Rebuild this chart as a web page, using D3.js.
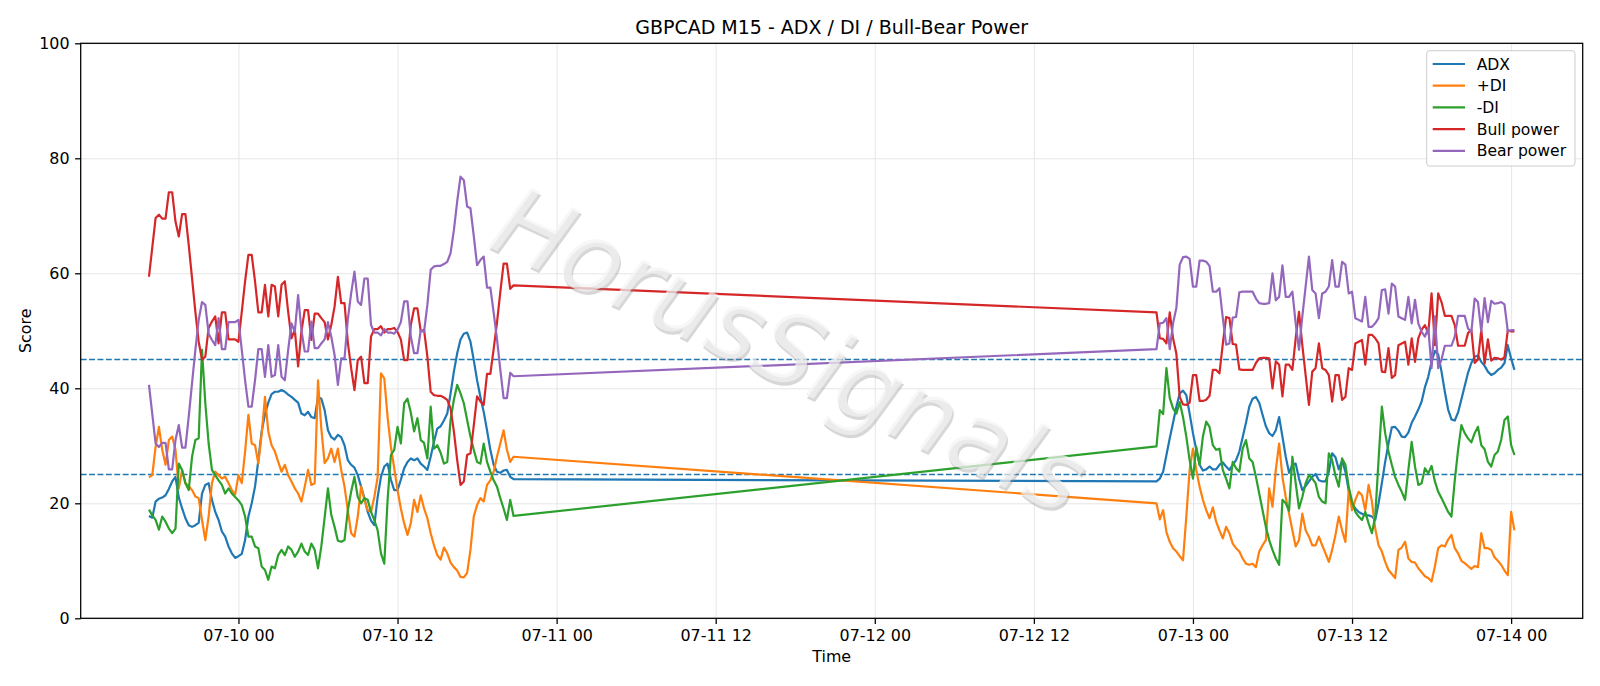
<!DOCTYPE html>
<html>
<head>
<meta charset="utf-8">
<script src="https://cdn.jsdelivr.net/npm/d3@7"></script>
<style>
  body { margin: 0; background: #fff; }
  svg text { font-family: "DejaVu Sans", sans-serif; fill: #000; }
</style>
</head>
<body>
<div class="chart"></div>
<script>
// two M15 sessions (UTC), one value per 15 minute bar
var sessionStarts = ['2026-07-09T17:15:00Z', '2026-07-12T21:15:00Z'];

var adxA = [17.8,17.5,20.3,20.8,21.0,21.4,22.5,23.8,24.6,21.0,
  19.1,17.4,16.2,15.9,16.2,16.6,21.7,23.2,23.5,20.6,
  18.5,17.1,15.1,14.2,12.5,11.3,10.5,10.8,11.2,13.6,
  17.7,20.0,22.9,27.5,32.5,35.5,37.5,39.0,39.4,39.4,
  39.7,39.4,38.9,38.5,38.0,37.5,35.6,35.3,35.9,35.0,
  34.8,38.5,38.2,36.2,32.7,31.5,31.1,31.9,31.5,30.1,
  27.5,26.7,26.2,24.9,22.9,20.9,18.5,17.0,16.2,21.1,
  24.6,26.4,26.9,24.1,22.3,22.3,24.1,26.1,27.2,27.8,
  27.5,27.8,26.9,26.4,25.8,28.1,30.7,33.0,33.4,34.4,
  35.6,39.1,42.9,46.1,48.5,49.5,49.7,48.1,44.9,41.4,
  38.5,35.9,32.7,29.3,26.7,25.5,25.3,25.7,25.8,24.6,
  24.2];
var adxB = [23.8,24.3,25.5,28.4,31.3,34.0,36.8,39.1,39.6,38.8,
  35.6,32.2,29.3,26.7,25.7,25.9,26.4,25.9,25.9,26.7,
  27.1,26.4,25.8,26.7,27.5,29.0,31.5,34.0,36.8,38.2,
  38.5,37.5,35.4,33.4,32.2,31.7,32.7,35.0,31.6,28.1,
  25.3,26.7,26.9,24.3,22.3,23.0,23.8,24.6,25.1,24.0,
  23.8,23.8,25.5,28.7,28.0,25.9,27.4,25.5,22.2,20.0,
  19.1,18.5,18.2,17.9,17.9,17.7,17.1,20.0,23.5,27.2,
  30.4,33.2,33.3,32.6,31.6,31.5,32.3,34.0,35.1,36.3,
  37.7,40.2,42.0,44.6,46.5,45.9,42.9,39.4,36.3,34.6,
  34.4,35.8,38.1,40.4,42.7,44.4,45.5,45.7,44.6,43.9,
  42.9,42.3,42.6,43.2,43.6,44.4,47.5,45.2,43.2];

var plusDiA = [24.5,24.9,29.8,33.3,29.3,26.7,31.0,31.6,29.3,22.6,
  25.8,23.5,23.0,22.3,21.2,20.9,17.1,13.6,17.7,23.5,
  25.5,24.9,24.3,24.6,23.5,22.3,21.5,24.9,23.5,29.0,
  35.4,30.4,30.1,26.9,32.0,38.5,32.5,30.1,29.0,27.2,
  25.5,26.7,24.9,23.8,22.6,21.7,20.3,22.9,25.8,23.2,
  23.5,41.4,33.0,27.0,27.8,29.5,27.2,29.5,25.8,22.9,
  18.8,14.8,14.2,17.7,22.9,20.6,18.8,18.5,21.1,24.6,
  42.6,41.7,35.0,29.8,26.1,22.3,19.1,16.5,14.5,16.5,
  20.6,18.5,21.4,19.1,17.4,14.8,12.7,11.0,10.2,12.3,
  11.3,9.7,8.9,8.3,7.2,7.1,7.9,11.9,17.7,19.7,
  20.9,20.3,23.2,24.0,25.5,28.1,30.4,32.7,29.3,27.2,
  28.1];
var plusDiB = [20.0,17.2,18.8,15.0,13.3,12.2,11.6,10.8,10.1,17.7,
  25.8,29.5,25.8,22.9,20.6,18.8,17.4,19.3,16.8,15.3,
  13.9,15.9,14.8,13.0,12.2,11.6,10.4,9.5,9.3,9.5,
  8.9,11.6,12.7,13.6,22.6,19.4,25.8,30.4,24.6,21.1,
  18.2,15.3,12.5,13.6,18.2,15.3,14.2,12.7,12.7,14.2,
  12.7,11.3,9.8,11.9,14.5,17.7,15.3,13.3,22.3,18.8,
  20.6,22.0,21.4,18.8,23.2,20.3,15.6,12.7,11.6,9.8,
  8.4,7.7,7.0,11.9,12.3,13.3,10.4,9.8,9.7,8.7,
  8.0,7.3,7.0,6.4,9.0,12.2,12.7,12.5,13.7,14.5,
  12.2,11.3,10.0,9.6,9.1,8.6,9.1,8.9,14.8,12.2,
  12.2,11.9,10.6,10.0,9.3,8.3,7.5,18.5,15.3];

var minusDiA = [18.9,17.9,17.1,15.4,17.7,16.8,15.6,14.8,15.6,26.9,
  25.8,23.5,22.3,28.1,31.0,31.3,46.7,37.4,30.4,25.8,
  24.9,24.0,23.2,21.7,22.6,21.7,21.1,20.5,19.7,17.7,
  14.2,14.2,12.5,12.2,9.0,8.4,6.7,9.0,8.7,11.0,
  11.9,11.0,12.5,11.9,10.7,11.6,13.0,11.6,11.0,13.0,
  11.9,8.7,12.5,17.5,22.6,18.0,15.9,13.5,13.3,13.6,
  18.8,22.0,24.6,21.1,20.0,20.9,20.6,18.5,17.1,15.3,
  11.3,9.5,20.6,28.4,29.3,33.3,30.4,37.4,38.2,35.8,
  32.5,34.8,31.0,30.5,27.8,36.8,29.5,30.1,28.8,26.9,
  27.2,34.5,38.0,40.6,39.1,37.4,34.5,31.6,29.3,27.2,
  26.9,30.4,27.2,25.5,24.0,22.9,20.9,19.1,17.1,20.6,
  17.8];
var minusDiB = [29.9,36.2,35.5,43.5,38.3,36.5,35.6,37.6,35.0,31.6,
  27.5,24.3,29.8,26.7,31.6,34.2,33.3,30.1,29.3,29.5,
  25.8,24.3,22.6,27.2,26.1,25.5,29.5,31.0,27.8,27.2,
  24.6,21.7,18.8,15.9,13.6,11.9,10.4,9.3,20.6,20.0,
  18.7,28.1,23.5,19.1,21.1,23.5,24.9,24.3,23.5,21.1,
  20.3,20.0,28.7,27.5,24.8,22.9,27.8,26.7,22.9,20.3,
  18.5,17.7,17.1,18.5,16.5,14.8,17.7,27.5,36.8,32.2,
  29.0,26.7,24.6,23.2,22.0,20.6,25.8,30.7,26.4,23.2,
  23.5,26.1,25.2,26.5,23.8,22.0,20.9,19.7,18.5,17.7,
  24.0,29.3,33.6,32.2,31.3,30.6,32.2,33.3,30.1,29.4,
  27.2,26.4,28.4,29.0,31.0,34.5,35.1,30.1,28.4];

var bullA = [59.4,64.5,69.6,70.2,69.5,69.5,74.1,74.1,69.0,66.4,
  70.3,70.3,64.9,59.1,53.3,48.1,45.0,45.5,50.5,51.6,
  52.5,47.8,53.2,53.2,48.5,48.5,48.5,48.1,53.3,58.6,
  63.2,63.2,58.6,53.2,53.2,58.0,52.5,58.0,57.7,52.5,
  58.0,58.6,53.3,48.7,50.2,43.8,49.9,53.6,53.6,48.4,
  53.0,53.0,52.2,51.5,48.5,51.0,54.2,59.4,54.8,54.8,
  48.0,43.5,39.7,44.9,45.5,40.9,40.9,49.0,50.3,50.3,
  50.8,49.7,50.3,50.3,50.5,49.8,48.5,44.9,44.9,51.0,
  53.9,53.9,49.9,50.2,45.5,39.4,38.8,38.7,38.7,38.4,
  38.0,36.5,32.5,27.5,23.2,23.8,28.4,28.7,33.5,38.6,
  37.7,37.1,42.5,42.5,46.8,51.4,56.7,61.7,61.7,57.3,
  57.9];
var bullB = [53.2,48.7,48.6,47.8,53.2,48.7,46.0,38.5,37.2,37.1,
  37.5,42.3,42.3,37.8,37.8,38.0,38.7,43.2,43.2,42.6,
  47.7,52.4,52.2,47.7,47.6,43.3,43.2,43.2,43.2,43.2,
  44.4,45.2,45.3,45.3,45.2,40.0,44.7,44.1,38.6,44.1,
  44.1,43.2,48.7,53.3,47.5,42.3,37.1,42.9,43.5,47.8,
  43.5,43.2,42.3,37.7,42.3,42.3,38.0,38.5,43.5,43.2,
  47.8,48.1,48.4,44.1,49.3,49.3,48.7,47.8,42.9,42.8,
  47.0,41.8,42.3,47.5,47.8,48.1,44.1,48.7,44.6,48.7,
  50.2,51.0,49.5,56.5,47.5,56.5,55.0,52.6,52.6,52.6,
  51.0,47.4,47.4,47.4,49.6,50.2,44.4,45.0,50.1,44.3,
  48.5,44.8,45.3,45.2,45.0,45.4,50.1,49.9,49.9];

var bearA = [40.6,35.5,30.4,29.8,30.5,30.5,25.9,25.9,31.0,33.6,
  29.7,29.7,35.1,40.9,46.7,51.9,55.0,54.5,49.5,48.4,
  47.5,52.2,46.8,46.8,51.5,51.5,51.5,51.9,46.7,41.4,
  36.8,36.8,41.4,46.8,46.8,42.0,47.5,42.0,42.3,47.5,
  42.0,41.4,46.7,51.3,49.8,56.2,50.1,46.4,46.4,51.6,
  47.0,47.0,47.8,48.5,51.5,49.0,45.8,40.6,45.2,45.2,
  52.0,56.5,60.3,55.1,54.5,59.1,59.1,51.0,49.7,49.7,
  49.2,50.3,49.7,49.7,49.5,50.2,51.5,55.1,55.1,49.0,
  46.1,46.1,50.1,49.8,54.5,60.6,61.2,61.3,61.3,61.6,
  62.0,63.5,67.5,72.5,76.8,76.2,71.6,71.3,66.5,61.4,
  62.3,62.9,57.5,57.5,53.2,48.6,43.3,38.3,38.3,42.7,
  42.1];
var bearB = [46.8,51.3,51.4,52.2,46.8,51.3,54.0,61.5,62.8,62.9,
  62.5,57.7,57.7,62.2,62.2,62.0,61.3,56.8,56.8,57.4,
  52.3,47.6,47.8,52.3,52.4,56.7,56.8,56.8,56.8,56.8,
  55.6,54.8,54.7,54.7,54.8,60.0,55.3,55.9,61.4,55.9,
  55.9,56.8,51.3,46.7,52.5,57.7,62.9,57.1,56.5,52.2,
  56.5,56.8,57.7,62.3,57.7,57.7,62.0,61.5,56.5,56.8,
  52.2,51.9,51.6,55.9,50.7,50.7,51.3,52.2,57.1,57.2,
  53.0,58.2,57.7,52.5,52.2,51.9,55.9,51.3,55.4,51.3,
  49.8,49.0,50.5,43.5,52.5,43.5,45.0,47.4,47.4,47.4,
  49.0,52.6,52.6,52.6,50.4,49.8,55.6,55.0,49.9,55.7,
  51.5,55.2,54.7,54.8,55.0,54.6,49.9,50.1,50.1];

var seriesNames  = ['ADX', '+DI', '-DI', 'Bull power', 'Bear power'];
var seriesColors = ['#1f77b4', '#ff7f0e', '#2ca02c', '#d62728', '#9467bd'];
var yTicks = [0, 20, 40, 60, 80, 100];
var refLevels = [45, 25];

// sizes
var W = 1600, H = 686,
    margin = { top: 43.3, right: 17.3, bottom: 67.7, left: 80.7 },
    width  = W - margin.left - margin.right,
    height = H - margin.top - margin.bottom;

var parse = d3.utcParse('%Y-%m-%dT%H:%M:%SZ');
function barTimes(start, n) {
  var t0 = parse(start);
  return d3.range(n).map(function(i){ return d3.utcMinute.offset(t0, 15 * i); });
}
var times = barTimes(sessionStarts[0], adxA.length).concat(barTimes(sessionStarts[1], adxB.length));

var series = [
  adxA.concat(adxB),
  plusDiA.concat(plusDiB),
  minusDiA.concat(minusDiB),
  bullA.concat(bullB),
  bearA.concat(bearB)
];

// matplotlib style 5% x margins
var tMin = times[0], tMax = times[times.length - 1],
    pad = (tMax - tMin) * 0.05;
var x = d3.scaleUtc().domain([new Date(+tMin - pad), new Date(+tMax + pad)]).range([0, width]);
var y = d3.scaleLinear().domain([0, 100]).range([height, 0]);

var svg = d3.select('.chart').append('svg')
    .attr('width', W).attr('height', H);

var g = svg.append('g')
    .attr('transform', 'translate(' + margin.left + ',' + margin.top + ')');

var xTicks = d3.utcHour.every(12).range(x.domain()[0], x.domain()[1]);

// grid
g.append('g')
    .attr('transform', 'translate(0,' + height + ')')
    .call(d3.axisBottom(x).tickValues(xTicks).tickSize(-height).tickFormat(''))
    .call(function(s){ s.select('.domain').remove(); })
    .selectAll('line').attr('stroke', '#e6e6e6').attr('stroke-width', 1);

g.append('g')
    .call(d3.axisLeft(y).tickValues(yTicks).tickSize(-width).tickFormat(''))
    .call(function(s){ s.select('.domain').remove(); })
    .selectAll('line').attr('stroke', '#e6e6e6').attr('stroke-width', 1);

// reference levels
g.selectAll('.ref')
    .data(refLevels)
    .enter()
    .append('line')
    .attr('class', 'ref')
    .attr('x1', 0).attr('x2', width)
    .attr('y1', function(d){ return y(d); })
    .attr('y2', function(d){ return y(d); })
    .attr('stroke', '#1f77b4')
    .attr('stroke-width', 1.5)
    .attr('stroke-dasharray', '5.9,2.5');

// lines
var line = d3.line()
    .x(function(d, i){ return x(times[i]); })
    .y(function(d){ return y(d); });

g.selectAll('.series')
    .data(series)
    .enter()
    .append('path')
    .attr('class', 'series')
    .attr('fill', 'none')
    .attr('stroke', function(d, i){ return seriesColors[i]; })
    .attr('stroke-width', 2.2)
    .attr('stroke-linejoin', 'round')
    .attr('d', line);

// axes
var xAxis = g.append('g')
    .attr('transform', 'translate(0,' + height + ')')
    .call(d3.axisBottom(x).tickValues(xTicks).tickFormat(d3.utcFormat('%m-%d %H'))
        .tickSize(5.6).tickPadding(5.6).tickSizeOuter(0));
var yAxis = g.append('g')
    .call(d3.axisLeft(y).tickValues(yTicks).tickSize(5.6).tickPadding(5.6).tickSizeOuter(0));

[xAxis, yAxis].forEach(function(a){
  a.select('.domain').remove();
  a.selectAll('line').attr('stroke', '#000').attr('stroke-width', 1.27);
  a.selectAll('text').attr('font-size', '15.9px').attr('font-family', 'DejaVu Sans').attr('fill', '#000');
});

g.append('rect')
    .attr('width', width).attr('height', height)
    .attr('fill', 'none').attr('stroke', '#000').attr('stroke-width', 1.27);

// labels
svg.append('text')
    .attr('x', margin.left + width / 2).attr('y', 33.8)
    .attr('text-anchor', 'middle').attr('font-size', '19px')
    .text('GBPCAD M15 - ADX / DI / Bull-Bear Power');

svg.append('text')
    .attr('x', margin.left + width / 2).attr('y', 662)
    .attr('text-anchor', 'middle').attr('font-size', '15.9px')
    .text('Time');

svg.append('text')
    .attr('transform', 'translate(30.5,' + (margin.top + height / 2) + ') rotate(-90)')
    .attr('text-anchor', 'middle').attr('font-size', '15.9px')
    .text('Score');

// legend
var legend = svg.append('g').attr('transform', 'translate(1426.7,50.7)');
legend.append('rect')
    .attr('width', 148.3).attr('height', 115.3).attr('rx', 3)
    .attr('fill', '#fff').attr('fill-opacity', 0.8)
    .attr('stroke', '#cccccc').attr('stroke-width', 1);
var item = legend.selectAll('.item')
    .data(seriesNames)
    .enter()
    .append('g')
    .attr('transform', function(d, i){ return 'translate(0,' + (13.3 + i * 21.7) + ')'; });
item.append('line')
    .attr('x1', 6).attr('x2', 38.3)
    .attr('stroke', function(d, i){ return seriesColors[i]; })
    .attr('stroke-width', 2.2);
item.append('text')
    .attr('x', 50).attr('dy', '0.36em')
    .attr('font-size', '15.6px')
    .text(function(d){ return d; });

// watermark
var wm = svg.append('g').attr('transform', 'translate(790,350) rotate(25)');
wm.append('text')
    .attr('x', 2.5).attr('y', 2.5)
    .attr('text-anchor', 'middle').attr('dominant-baseline', 'central')
    .attr('font-size', '98px').attr('font-style', 'italic')
    .style('fill', '#8c8c8c').attr('fill-opacity', 0.35)
    .text('HorusSignals');
wm.append('text')
    .attr('text-anchor', 'middle').attr('dominant-baseline', 'central')
    .attr('font-size', '98px').attr('font-style', 'italic')
    .style('fill', '#f4f4f4').attr('fill-opacity', 0.7)
    .text('HorusSignals');
</script>
</body>
</html>
